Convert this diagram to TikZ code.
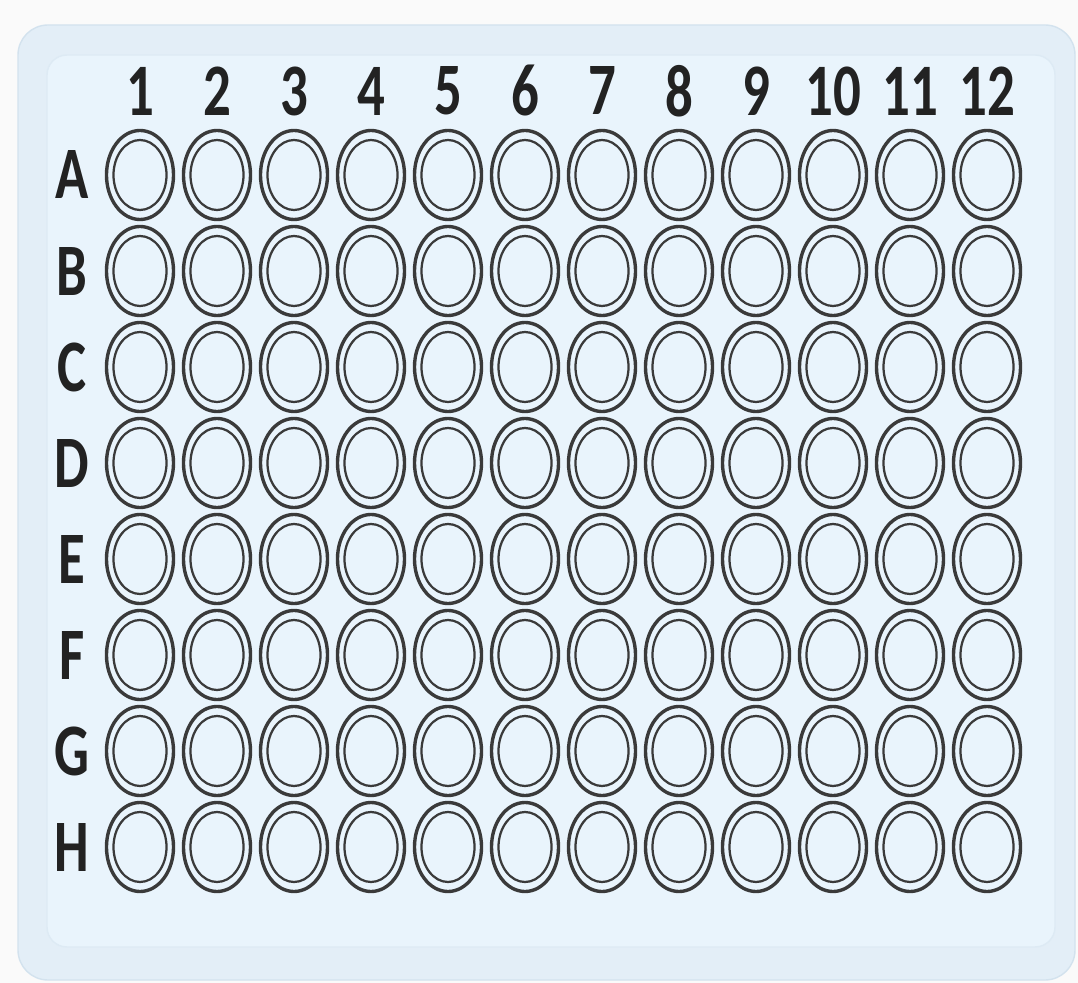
\documentclass[tikz,border=0pt]{standalone}
\usepackage{fontspec}
\setmainfont{Carlito}
\usepackage{tikz}
\usetikzlibrary{positioning, shapes.geometric}
\definecolor{plateBack}{HTML}{FAFAFA}
\definecolor{plateOuter}{HTML}{E3EEF7}
\definecolor{plateEdge}{HTML}{D3E2EE}
\definecolor{plateInner}{HTML}{E9F4FC}
\definecolor{plateInnerEdge}{HTML}{DDEAF4}
\definecolor{wellInk}{HTML}{3A3A3A}
\definecolor{labelInk}{HTML}{222222}

\begin{document}
\begin{tikzpicture}[
  x=0.025cm, y=-0.025cm,
  every node/.style={inner sep=0pt, outer sep=0pt},
  plate/.style={
    rounded corners=0.75cm,
    draw=plateEdge, line width=1pt, fill=plateOuter
  },
  platein/.style={
    rounded corners=0.5cm,
    draw=plateInnerEdge, line width=1pt, fill=plateInner
  },
  well/.style={
    ellipse, minimum width=1.675cm, minimum height=2.225cm,
    draw=wellInk, line width=2.4pt
  },
  wellin/.style={
    ellipse, minimum width=1.325cm, minimum height=1.75cm,
    draw=wellInk, line width=1.6pt
  },
  lbl/.style={
    text=labelInk, font=\fontsize{39}{39}\selectfont\bfseries
  },
]

% === PAGE ===
\fill[plateBack] (0,0) rectangle (1078,983);
\useasboundingbox (0,0) rectangle (1078,983);

% === PLATE BODY ===
\draw[plate] (18,25) rectangle (1075,980);
\draw[platein] (47,55) rectangle (1055,947);

% === COLUMN NUMBERS ===
\foreach \c in {1,...,12} {
  \node[lbl] (c\c) at ({140+77*(\c-1)},91) {\scalebox{1}[1.35]{\c}};
}

% === ROW LETTERS AND WELLS ===
\foreach \r [count=\j from 0] in {A,B,C,D,E,F,G,H} {
  \node[lbl] (r\r) at (72,{175+96*\j}) {\scalebox{1}[1.35]{\r}};
  \foreach \c in {1,...,12} {
    \node[well] (w\r-\c) at ({140+77*(\c-1)},{175+96*\j}) {};
    \node[wellin] (v\r-\c) at (w\r-\c.center) {};
  }
}

\end{tikzpicture}
\end{document}
